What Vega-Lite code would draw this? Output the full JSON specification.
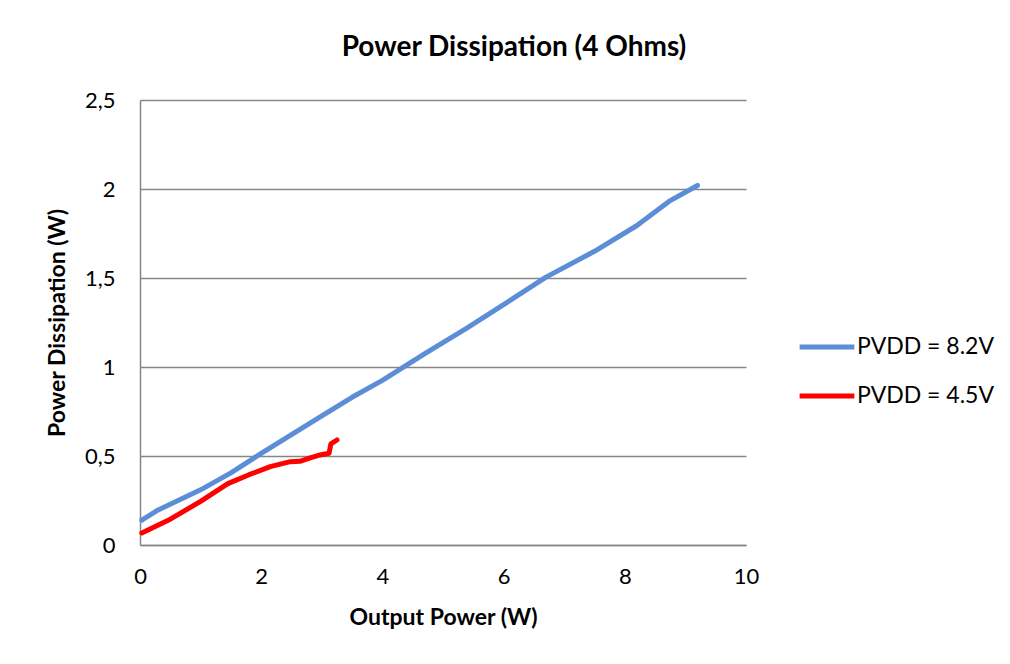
{
  "$schema": "https://vega.github.io/schema/vega-lite/v6.json",
  "width": 606,
  "height": 445,
  "autosize": "none",
  "padding": {"left": 140, "top": 100, "right": 264, "bottom": 119},
  "background": "white",
  "title": {
    "text": "Power Dissipation (4 Ohms)",
    "anchor": "middle",
    "frame": "group",
    "dx": 71,
    "offset": 27,
    "font": "Lato",
    "fontSize": 28,
    "fontWeight": "bold",
    "color": "#000000"
  },
  "config": {
    "view": {"stroke": null},
    "font": "Lato"
  },
  "data": {
    "values": [
      {"x": 0.03, "y": 0.14, "s": "PVDD = 8.2V"},
      {"x": 0.3, "y": 0.197, "s": "PVDD = 8.2V"},
      {"x": 1.0, "y": 0.31, "s": "PVDD = 8.2V"},
      {"x": 1.5, "y": 0.405, "s": "PVDD = 8.2V"},
      {"x": 2.0, "y": 0.515, "s": "PVDD = 8.2V"},
      {"x": 2.5, "y": 0.62, "s": "PVDD = 8.2V"},
      {"x": 3.0, "y": 0.725, "s": "PVDD = 8.2V"},
      {"x": 3.5, "y": 0.83, "s": "PVDD = 8.2V"},
      {"x": 4.0, "y": 0.925, "s": "PVDD = 8.2V"},
      {"x": 4.7, "y": 1.075, "s": "PVDD = 8.2V"},
      {"x": 5.4, "y": 1.22, "s": "PVDD = 8.2V"},
      {"x": 6.0, "y": 1.35, "s": "PVDD = 8.2V"},
      {"x": 6.7, "y": 1.505, "s": "PVDD = 8.2V"},
      {"x": 7.5, "y": 1.65, "s": "PVDD = 8.2V"},
      {"x": 8.2, "y": 1.795, "s": "PVDD = 8.2V"},
      {"x": 8.75, "y": 1.935, "s": "PVDD = 8.2V"},
      {"x": 9.2, "y": 2.02, "s": "PVDD = 8.2V"},
      {"x": 0.03, "y": 0.068, "s": "PVDD = 4.5V"},
      {"x": 0.5, "y": 0.145, "s": "PVDD = 4.5V"},
      {"x": 1.0, "y": 0.245, "s": "PVDD = 4.5V"},
      {"x": 1.45, "y": 0.345, "s": "PVDD = 4.5V"},
      {"x": 1.8, "y": 0.395, "s": "PVDD = 4.5V"},
      {"x": 2.15, "y": 0.44, "s": "PVDD = 4.5V"},
      {"x": 2.48, "y": 0.468, "s": "PVDD = 4.5V"},
      {"x": 2.64, "y": 0.47, "s": "PVDD = 4.5V"},
      {"x": 2.81, "y": 0.49, "s": "PVDD = 4.5V"},
      {"x": 2.97, "y": 0.506, "s": "PVDD = 4.5V"},
      {"x": 3.12, "y": 0.515, "s": "PVDD = 4.5V"},
      {"x": 3.15, "y": 0.568, "s": "PVDD = 4.5V"},
      {"x": 3.25, "y": 0.59, "s": "PVDD = 4.5V"}
    ]
  },
  "mark": {"type": "line", "strokeWidth": 5, "strokeCap": "round", "strokeJoin": "round"},
  "encoding": {
    "x": {
      "field": "x",
      "type": "quantitative",
      "scale": {"domain": [0, 10], "nice": false},
      "axis": {
        "values": [0, 2, 4, 6, 8, 10],
        "title": "Output Power (W)",
        "titleFont": "Lato",
        "titleFontSize": 23,
        "titleFontWeight": "bold",
        "titleColor": "#000000",
        "titlePadding": 19,
        "labelFont": "Lato",
        "labelFontSize": 22,
        "labelColor": "#000000",
        "labelPadding": 21,
        "labelFlush": false,
        "grid": false,
        "ticks": false,
        "domainColor": "#868686",
        "domainWidth": 1.5
      }
    },
    "y": {
      "field": "y",
      "type": "quantitative",
      "scale": {"domain": [0, 2.5], "nice": false},
      "axis": {
        "values": [0, 0.5, 1, 1.5, 2, 2.5],
        "labelExpr": "replace(format(datum.value, ''), '.', ',')",
        "title": "Power Dissipation (W)",
        "titleFont": "Lato",
        "titleFontSize": 23,
        "titleFontWeight": "bold",
        "titleColor": "#000000",
        "titlePadding": 15,
        "labelFont": "Lato",
        "labelFontSize": 22,
        "labelColor": "#000000",
        "labelPadding": 25,
        "grid": true,
        "gridColor": "#868686",
        "gridWidth": 1.5,
        "ticks": false,
        "domainColor": "#868686",
        "domainWidth": 1.5
      }
    },
    "color": {
      "field": "s",
      "type": "nominal",
      "sort": ["PVDD = 8.2V", "PVDD = 4.5V"],
      "scale": {"domain": ["PVDD = 8.2V", "PVDD = 4.5V"], "range": ["#5B8ED6", "#FF0000"]},
      "legend": {
        "title": null,
        "orient": "none",
        "legendX": 657,
        "legendY": 217,
        "symbolType": "stroke",
        "symbolSize": 3000,
        "symbolStrokeWidth": 5,
        "labelFont": "Lato",
        "labelFontSize": 23,
        "labelColor": "#000000",
        "labelOffset": 0,
        "rowPadding": 7
      }
    }
  }
}
